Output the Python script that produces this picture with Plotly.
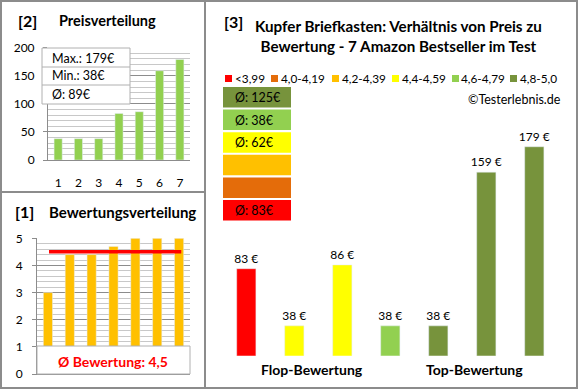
import plotly.graph_objects as go

W, H = 580, 390
def px(x): return x / W
def py(y): return 1 - y / H

# ---------------- data ----------------
price_rank = [1, 2, 3, 4, 5, 6, 7]
prices_sorted = [38, 38, 38, 83, 86, 159, 179]
price_stats = ["Max.: 179€", "Min.: 38€", "Ø: 89€"]
rating_rank = [1, 2, 3, 4, 5, 6, 7]
ratings = [3.0, 4.4, 4.4, 4.7, 5.0, 5.0, 5.0]
avg_rating = 4.5
avg_rating_label = "Ø Bewertung: 4,5"
product_idx = [0, 1, 2, 3, 4, 5, 6]
prices_by_rating = [83, 38, 86, 38, 38, 159, 179]
bin_labels = ["<3,99", "4,0-4,19", "4,2-4,39", "4,4-4,59", "4,6-4,79", "4,8-5,0"]
bin_lower = [0.0, 4.0, 4.2, 4.4, 4.6, 4.8]
bin_colors = ["#FF0000", "#E46C0A", "#FFC000", "#FFFF00", "#92D050", "#77933C"]
group_labels = ["Flop-Bewertung", "Top-Bewertung"]
title3 = "Kupfer Briefkasten: Verhältnis von Preis zu<br>Bewertung - 7 Amazon Bestseller im Test"
copyright_text = "©Testerlebnis.de"

def bin_of(r):
    idx = 0
    for i, lo in enumerate(bin_lower):
        if r >= lo:
            idx = i
    return idx

bar_bins = [bin_of(r) for r in ratings]
bar_colors = [bin_colors[b] for b in bar_bins]
bin_avgs = []
for i in range(len(bin_labels)):
    vals = [p for p, b in zip(prices_by_rating, bar_bins) if b == i]
    bin_avgs.append(round(sum(vals) / len(vals)) if vals else None)

FONT = "Lato"
GRID_MAJOR = "#8C8C8C"
GRID_MINOR = "#C8C8C8"

fig = go.Figure()

# Panel [2] price distribution
fig.add_trace(go.Bar(x=price_rank, y=prices_sorted, marker_color="#92D050",
                     width=0.4, xaxis="x", yaxis="y", showlegend=False, hoverinfo="skip"))
# Panel [1] rating distribution
fig.add_trace(go.Bar(x=rating_rank, y=ratings, marker_color="#FFC000",
                     width=0.42, xaxis="x2", yaxis="y2", showlegend=False, hoverinfo="skip"))
fig.add_trace(go.Scatter(x=[rating_rank[0] + 0.05, rating_rank[-1] + 0.1],
                         y=[avg_rating, avg_rating], mode="lines",
                         line=dict(color="#FF0000", width=3.5),
                         xaxis="x2", yaxis="y2", showlegend=False, hoverinfo="skip"))
# Panel [3] price vs rating
fig.add_trace(go.Bar(x=product_idx, y=prices_by_rating, marker_color=bar_colors,
                     width=0.4, text=[f"{p} €" for p in prices_by_rating],
                     textposition="outside", cliponaxis=False, constraintext="none",
                     textfont=dict(family=FONT, size=12, color="#000"),
                     xaxis="x3", yaxis="y3", showlegend=False, hoverinfo="skip"))

axis_common = dict(showline=True, linecolor=GRID_MAJOR, linewidth=1, zeroline=False,
                   tickfont=dict(family=FONT, size=12, color="#000"))

shapes = []
annotations = []

def rect(x0, y0, x1, y1, fill="rgba(0,0,0,0)", line="#8C8C8C", lw=1, layer="above"):
    shapes.append(dict(type="rect", xref="paper", yref="paper",
                       x0=px(x0), x1=px(x1), y0=py(y1), y1=py(y0),
                       fillcolor=fill, line=dict(color=line, width=lw), layer=layer))

def hline(x0, x1, y, color="#8C8C8C", lw=1):
    shapes.append(dict(type="line", xref="paper", yref="paper",
                       x0=px(x0), x1=px(x1), y0=py(y), y1=py(y),
                       line=dict(color=color, width=lw)))

def text(x, y, t, size=12, bold=False, color="#000", xanchor="left"):
    annotations.append(dict(x=px(x), y=py(y), xref="paper", yref="paper",
                            text=(f"<b>{t}</b>" if bold else t), showarrow=False,
                            xanchor=xanchor, yanchor="middle",
                            font=dict(family=FONT, size=size, color=color)))

# panel borders
rect(1, 1, 205, 192, line="#8C8C8C", lw=2)
rect(1, 192, 205, 388, line="#8C8C8C", lw=2)
rect(205, 1, 577, 388, line="#8C8C8C", lw=2)

# panel [2] texts
text(27, 20, "[2]", size=16, bold=True, xanchor="center")
text(57, 20, "Preisverteilung", size=14.5, bold=True)
rect(42, 48, 130, 104, fill="#FFFFFF", line="#B0B0B0", lw=1)
hline(42, 130, 67, color="#B0B0B0")
hline(42, 130, 85, color="#B0B0B0")
for i, s in enumerate(price_stats):
    text(50, 58 + i * 18, s, size=12.5)

# panel [1] texts
text(24, 212, "[1]", size=16, bold=True, xanchor="center")
text(47, 212, "Bewertungsverteilung", size=15, bold=True)
rect(37, 346, 190, 374, fill="#FFFFFF", line="#B0B0B0", lw=1)
text(113, 361, avg_rating_label, size=14, bold=True, color="#FF0000", xanchor="center")

# panel [3] texts
text(233, 21, "[3]", size=16, bold=True, xanchor="center")
annotations.append(dict(x=px(398), y=py(36), xref="paper", yref="paper", text=f"<b>{title3}</b>",
                        showarrow=False, xanchor="center", yanchor="middle",
                        font=dict(family=FONT, size=15.2, color="#000")))
legend_x = [225, 271, 332, 392, 452, 510]
for lx, lab, col in zip(legend_x, bin_labels, bin_colors):
    shapes.append(dict(type="rect", xref="paper", yref="paper", x0=px(lx), x1=px(lx + 7),
                       y0=py(82), y1=py(75), fillcolor=col, line=dict(width=0)))
    text(lx + 7.5, 78.5, lab, size=11.8)
text(563, 99, copyright_text, size=12.5, xanchor="right")
for k in range(len(bin_labels)):
    i = len(bin_labels) - 1 - k
    y0 = 87 + k * 22.6
    shapes.append(dict(type="rect", xref="paper", yref="paper", x0=px(223), x1=px(291),
                       y0=py(y0 + 20.5), y1=py(y0), fillcolor=bin_colors[i], line=dict(width=0)))
    if bin_avgs[i] is not None:
        text(233, y0 + 10.5, f"Ø: {bin_avgs[i]}€", size=12.5)
text(312, 369, group_labels[0], size=14, bold=True, xanchor="center")
text(474, 369, group_labels[1], size=14, bold=True, xanchor="center")

fig.update_layout(
    width=W, height=H, margin=dict(l=0, r=0, t=0, b=0, autoexpand=False),
    paper_bgcolor="#FFFFFF", plot_bgcolor="rgba(0,0,0,0)",
    bargap=0.6, font=dict(family=FONT), hovermode=False,
    xaxis=dict(domain=[px(48), px(190)], range=[0.5, 7.5], tickvals=price_rank,
               ticks="", ticklabelstandoff=12, showgrid=False, anchor="y", **axis_common),
    yaxis=dict(domain=[py(160), py(47.7)], range=[0, 200], dtick=50, ticks="outside",
               ticklen=4, tickcolor=GRID_MAJOR, showgrid=True, gridcolor=GRID_MAJOR,
               minor=dict(dtick=10, showgrid=True, gridcolor=GRID_MINOR, ticks=""),
               ticklabelstandoff=6, anchor="x", **axis_common),
    xaxis2=dict(domain=[px(37), px(190)], range=[0.5, 7.5], showticklabels=False,
                ticks="", showgrid=False, anchor="y2", **axis_common),
    yaxis2=dict(domain=[py(374), py(238.3)], range=[0, 5], dtick=1, ticks="outside",
                ticklen=4, tickcolor=GRID_MAJOR, showgrid=True, gridcolor=GRID_MAJOR,
                minor=dict(dtick=0.2, showgrid=True, gridcolor=GRID_MINOR, ticks=""),
                ticklabelstandoff=7, anchor="x2", **axis_common),
    xaxis3=dict(domain=[px(222.3), px(558.3)], range=[-0.5, 6.5], visible=False, anchor="y3"),
    yaxis3=dict(domain=[py(355.7), py(100)], range=[14.5, 215.8], visible=False, anchor="x3"),
    shapes=shapes, annotations=annotations,
)

fig.write_html("out.html", config={"displayModeBar": False, "staticPlot": True},
               post_script="document.body.style.margin='0';document.body.style.overflow='hidden';")
